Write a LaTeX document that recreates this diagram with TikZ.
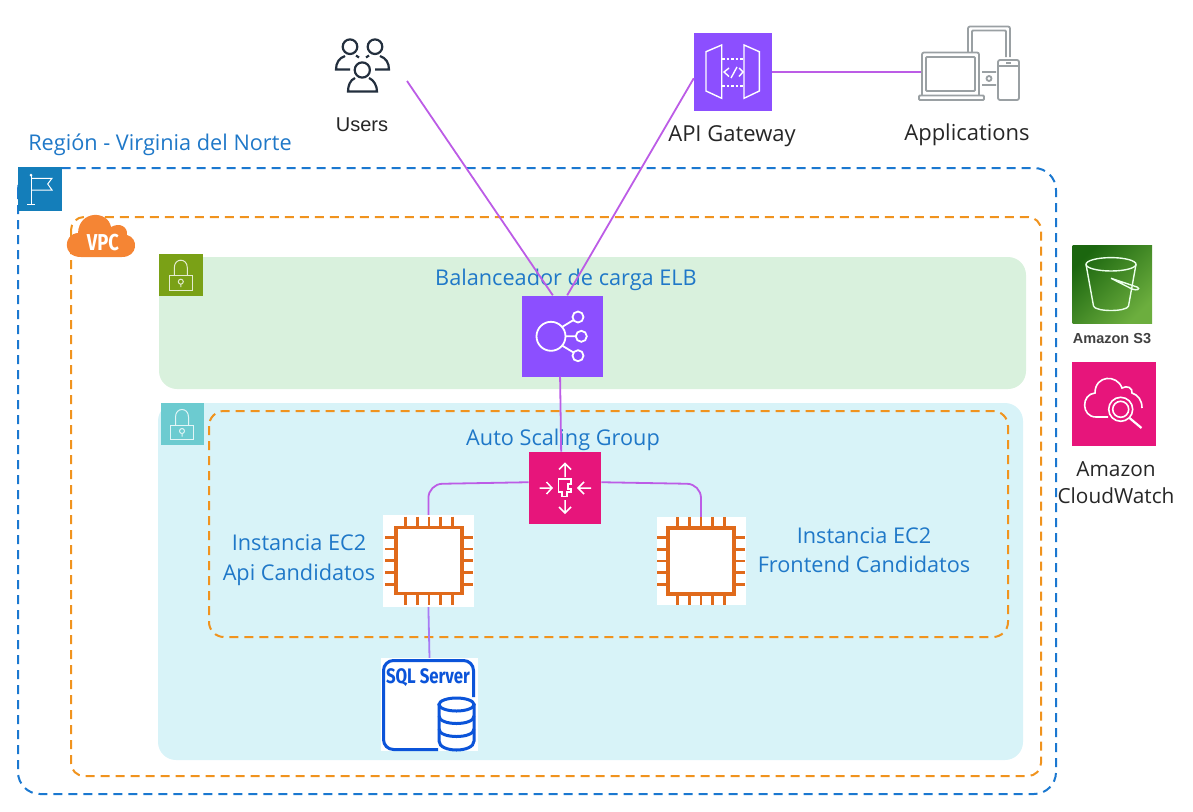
\documentclass[tikz,border=0pt]{standalone}
\usepackage{fontspec}
\setmainfont{Open Sans}
\newfontfamily\awsfont{Liberation Sans}
\newfontfamily\sqlfont[FakeStretch=0.8]{Fira Sans}
\definecolor{regionblue}{HTML}{1B78D0}
\definecolor{labelblue}{HTML}{1F78C8}
\definecolor{flagblue}{HTML}{147EBA}
\definecolor{vpcorange}{HTML}{F0931E}
\definecolor{cloudorange}{HTML}{F58534}
\definecolor{subnetgreen}{HTML}{D9F1DD}
\definecolor{lockgreen}{HTML}{7AA116}
\definecolor{subnetblue}{HTML}{D8F3F8}
\definecolor{lockteal}{HTML}{6CCBD0}
\definecolor{awspurple}{HTML}{8C4FFF}
\definecolor{awspink}{HTML}{E7157B}
\definecolor{linkpurple}{HTML}{BC5CE6}
\definecolor{dblink}{HTML}{A87BF5}
\definecolor{chiporange}{HTML}{E06A1B}
\definecolor{sqlblue}{HTML}{0B54D9}
\definecolor{usersdark}{HTML}{232F3E}
\definecolor{devicegrey}{HTML}{9AA0A3}
\definecolor{bucketdark}{HTML}{1B660F}
\definecolor{bucketlight}{HTML}{6CAE3E}
\tikzset{
  link/.style={draw=linkpurple,line width=1.8pt},
  bluedash/.style={draw=regionblue,line width=2pt,dash pattern=on 9pt off 6pt,rounded corners=22pt},
  orangedash/.style={draw=vpcorange,line width=2pt,dash pattern=on 9pt off 6pt},
  service/.style={fill=#1,inner sep=0pt},
  whitebox/.style={fill=white,inner sep=0pt},
  icon/.style={draw=white,line width=1.8pt},
  bluetext/.style={text=labelblue,font=\fontsize{21.7}{29.5}\selectfont,inner sep=0pt},
  darktext/.style={text=black!85,font=\fontsize{22}{26}\selectfont,inner sep=0pt}
}
\begin{document}
\begin{tikzpicture}[x=1pt,y=-1pt]
\useasboundingbox (0,0) rectangle (1193,811);

    % containers
    \draw[bluedash] (18,168) rectangle (1056,794);
    \draw[orangedash,rounded corners=13pt] (71,217) rectangle (1041,776);
    \fill[subnetgreen,rounded corners=18pt] (159,257) rectangle (1026,389);
    \fill[subnetblue,rounded corners=18pt] (158,403) rectangle (1023,760);
    \draw[orangedash,rounded corners=15pt] (209,411) rectangle (1008,637);

    % services
    \node[service=awspurple,minimum width=78pt,minimum height=78pt] (gateway) at (733,72) {};
    \node[service=awspurple,minimum width=81pt,minimum height=81pt] (balancer) at (562.2,336) {};
    \node[service=awspink,minimum width=72.5pt,minimum height=72.5pt] (scaling) at (565,488) {};
    \node[whitebox,minimum width=91pt,minimum height=92pt] (instanceApi) at (428.4,561) {};
    \node[whitebox,minimum width=89pt,minimum height=88pt] (instanceFront) at (701,561) {};
    \node[whitebox,minimum width=97pt,minimum height=93pt] (database) at (429.5,704.5) {};
    \node[inner sep=0pt,minimum width=100pt,minimum height=75pt] (devices) at (971,63.5) {};
    \coordinate (usersEnd) at (407,81);

    % labels
    \node[bluetext] (regionLabel) at (160,145) {Región - Virginia del Norte};
    \node[bluetext] (balancerLabel) at (566,280) {Balanceador de carga ELB};
    \node[bluetext] (scalingLabel) at (563,440) {Auto Scaling Group};
    \node[bluetext,align=center] (apiLabel) at (299,560) {Instancia EC2\\Api Candidatos};
    \node[bluetext,align=center] (frontLabel) at (864,550) {Instancia EC2\\Frontend Candidatos};
    \node[darktext,font=\awsfont\fontsize{20}{24}\selectfont] (usersLabel) at (362,125) {Users};
    \node[darktext] (gatewayLabel) at (732,136) {API Gateway};
    \node[darktext] (devicesLabel) at (967,135) {Applications};
    \node[darktext,align=center,font=\fontsize{20.8}{27}\selectfont] (watchLabel) at (1116,483) {Amazon\\CloudWatch};
    \node[inner sep=0pt,text=black!75,font=\awsfont\bfseries\fontsize{14.5}{17}\selectfont] (bucketLabel) at (1112,339) {Amazon S3};

    % connectors
    \draw[link] (usersEnd) -- (balancer.103);
    \draw[link] (gateway.189) -- (balancer.83);
    \draw[link] (gateway.east) -- (gateway.east -| devices.west);
    \draw[link] (balancer.267) -- (scaling.96);
    \draw[link,rounded corners=14pt] (scaling.171) -- (428.4,484) -- (instanceApi.north);
    \draw[link,rounded corners=14pt] (scaling.9) -- (701,484) -- (instanceFront.north);
    \draw[draw=dblink,line width=1.8pt] (instanceApi.south) -- (database.north);

    % region and vpc badges
    \fill[flagblue] (17.7,166.7) rectangle (62.3,210.7);
    \draw[white,line width=1pt] (31,176) -- (31,204) (27,204) -- (35,204);
    \draw[white,line width=1pt] (31,178.3) -- (52,178.3) -- (47.7,184) -- (52,190) -- (31,190);
    \fill[white] (31,175) circle (1.5);
    \fill[cloudorange] (81,257) .. controls (62,257) and (63,234) .. (78,233) .. controls (79,210) and (108,210) .. (111,227) .. controls (120,222) and (128,227) .. (127,235) .. controls (139,238) and (138,257) .. (122,257) -- cycle;
    \node[inner sep=0pt,text=white,font=\sqlfont\bfseries\fontsize{23}{27}\selectfont] (vpcLabel) at (103,243) {VPC};

    % subnet locks
    \foreach \lx/\ly/\lc in {159.3/253.7/lockgreen,160.5/403/lockteal} {
      \fill[\lc] (\lx,\ly) rectangle (\lx+43.5,\ly+42);
      \draw[white!80!\lc,line width=1pt] (\lx+10,\ly+22) rectangle (\lx+33,\ly+36.5);
      \draw[white!80!\lc,line width=1pt] (\lx+15,\ly+22) -- (\lx+15,\ly+14) .. controls (\lx+15,\ly+4) and (\lx+28,\ly+4) .. (\lx+28,\ly+14) -- (\lx+28,\ly+22);
      \draw[white!80!\lc,line width=1pt] (\lx+21.5,\ly+28) circle (2.5) (\lx+21.5,\ly+30.5) -- (\lx+21.5,\ly+33.5);
    }

    % users
    \begin{scope}[draw=usersdark,line width=2.2pt]
    \draw (350,46.7) circle (7.3) (375,46.7) circle (7.3) (362.3,70) circle (7.6);
    \draw (345,56) .. controls (339,58) and (336,63) .. (336,69.5) -- (350,69.5);
    \draw (380,56) .. controls (386,58) and (389,63) .. (389,69.5) -- (375,69.5);
    \draw (356,55.5) -- (359,57.5) (369,55.5) -- (366,57.5);
    \draw (355,78) .. controls (350,80) and (348,86) .. (348,91.5) -- (377,91.5) .. controls (377,86) and (374,80) .. (369,78);
    \end{scope}

    % gateway icon
    \draw[icon,line width=1.4pt] (706,51.7) -- (721.7,45) -- (721.7,98.3) -- (706,91) -- cycle;
    \draw[icon,line width=1.4pt] (744,45) -- (759.3,51.7) -- (759.3,91) -- (744,98.3) -- cycle;
    \draw[icon,line width=1.4pt,dash pattern=on 2.5pt off 2pt] (722,59) -- (744,59) (722,86) -- (744,86);
    \draw[icon,line width=1.4pt] (729,68) -- (724,72) -- (729,76.5) (737,67) -- (731,78) (739,68) -- (743,72) -- (739,76.5);

    % devices icon
    \begin{scope}[draw=devicegrey,line width=1.8pt]
    \draw[rounded corners=2pt] (922,95) -- (922,52.5) -- (979,52.5) -- (979,95);
    \draw[rounded corners=1pt] (926,57) rectangle (975,91);
    \draw[rounded corners=1pt] (919,100) -- (919,95.5) -- (984,95.5) -- (984,100) -- cycle;
    \draw[rounded corners=2pt] (968,52) -- (968,26.5) -- (1010,26.5) -- (1010,57);
    \draw[rounded corners=1pt] (972,52) -- (972,30.5) -- (1006,30.5) -- (1006,57);
    \draw[rounded corners=2pt] (998,60) rectangle (1019,100);
    \draw (998,66) -- (1019,66) (1006,63) -- (1011,63);
    \draw (982,72) -- (996,72) (982,85) -- (996,85) (989,78.5) circle (2.5);
    \end{scope}

    % balancer icon
    \draw[icon] (551,336.3) circle (14.5) (578,317) circle (5.5) (581.3,336.3) circle (5.5) (578,355.7) circle (5.5);
    \draw[icon] (562,327) -- (573.5,320) (565.5,336.3) -- (575.8,336.3) (562,345.5) -- (573.5,352.5);

    % scaling icon
    \begin{scope}[draw=white,line width=1.5pt]
    \draw (565,477) -- (565,463.5) (559,469.5) -- (565,463.5) -- (571,469.5);
    \draw (565,500) -- (565,513) (559,507) -- (565,513) -- (571,507);
    \draw (539.5,488) -- (552,488) (546.5,482) -- (552,488) -- (546.5,494);
    \draw (591,488) -- (578,488) (584,482) -- (578,488) -- (584,494);
    \draw (558.5,479) -- (571,479) -- (571,484) -- (568,484) -- (568,489) -- (571,489) -- (571,492) -- (567,492) -- (567,496.5) -- (562,496.5) -- (562,492) -- (558.5,492) -- cycle;
    \end{scope}

    % instance chips
    \foreach \cx/\cy in {429/560.7,701/561} {
      \draw[chiporange,line width=3.2pt] (\cx-33,\cy-33) rectangle (\cx+33,\cy+33);
      \foreach \p in {-23.4,-11.7,0,11.7,23.4} {
        \draw[chiporange,line width=2.8pt] (\cx+\p,\cy-44) -- (\cx+\p,\cy-33) (\cx+\p,\cy+33) -- (\cx+\p,\cy+44);
        \draw[chiporange,line width=2.8pt] (\cx-44,\cy+\p) -- (\cx-33,\cy+\p) (\cx+33,\cy+\p) -- (\cx+44,\cy+\p);
      }
    }

    % database icon
    \draw[sqlblue,line width=3pt,rounded corners=10pt] (473.5,697) -- (473.5,660.5) -- (383.5,660.5) -- (383.5,749.5) -- (438,749.5);
    \node[inner sep=0pt,text=sqlblue,font=\sqlfont\bfseries\fontsize{21}{25}\selectfont] (sqlLabel) at (428,678) {SQL Server};
    \filldraw[fill=white,draw=sqlblue,line width=3pt] (439,705) -- (439,741) .. controls (439,753) and (474,753) .. (474,741) -- (474,705) -- cycle;
    \filldraw[fill=white,draw=sqlblue,line width=3pt] (456.5,704.5) ellipse [x radius=17.5,y radius=6.5];
    \draw[sqlblue,line width=3pt] (439,716) .. controls (439,726) and (474,726) .. (474,716);
    \draw[sqlblue,line width=3pt] (439,729) .. controls (439,739) and (474,739) .. (474,729);

    % bucket
    \shade[left color=bucketdark,right color=bucketlight,shading angle=45] (1072.7,245) rectangle (1152,323);
    \begin{scope}[draw=white!92!green,line width=1.4pt]
    \draw (1111,264.3) ellipse [x radius=25,y radius=6.7];
    \draw (1086,264.3) -- (1093.5,306) .. controls (1095,312) and (1127,312) .. (1128.5,306) -- (1136,264.3);
    \draw (1111,278.3) -- (1137,287) .. controls (1141,289) and (1137,291) .. (1132,289) -- (1111,278.3);
    \end{scope}

    % cloudwatch
    \node[service=awspink,minimum width=84pt,minimum height=84pt] (watch) at (1114,404) {};
    \begin{scope}[draw=white,line width=1.6pt]
    \draw (1108,417) -- (1096,417) .. controls (1081,417) and (1081,394) .. (1095,393) .. controls (1095,375) and (1117,374) .. (1122,388) .. controls (1127,385) and (1133,388) .. (1132,393) .. controls (1138,395) and (1142,400) .. (1142,408);
    \draw[fill=awspink] (1120.7,409.3) circle (12) (1120.7,409.3) circle (8);
    \draw[line width=2.2pt] (1129.5,418) -- (1141.5,428);
    \end{scope}
\end{tikzpicture}
\end{document}
